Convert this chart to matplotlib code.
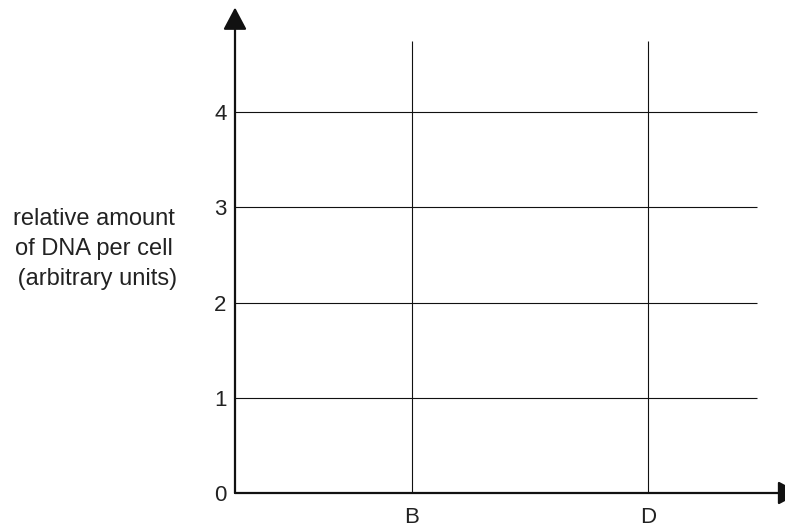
import matplotlib
matplotlib.use("Agg")
import matplotlib.pyplot as plt

# valores del grafico
y_levels = [0, 1, 2, 3, 4]
stage_labels = ["B", "D"]
stage_pos = [1.5, 3.5]
grid_end = 4.42
vline_top = 4.75
y_arrow_tip = 5.1
x_arrow_tip = 4.79

plt.rcParams["font.family"] = ["Liberation Sans", "DejaVu Sans"]

fig = plt.figure(figsize=(7.85, 5.28), dpi=100)
ax = fig.add_axes([235 / 785, 35 / 528, 550 / 785, 493 / 528])
ax.set_xlim(0, 550 / 118)
ax.set_ylim(0, 493 / 95.2)
for s in ax.spines.values():
    s.set_visible(False)

# rejilla
ax.hlines(y_levels[1:], 0, grid_end, color="#111111", lw=0.8)
ax.vlines(stage_pos, 0, vline_top, color="#111111", lw=0.8)

# ejes con flechas
arrow = dict(arrowstyle="-|>,head_length=0.68,head_width=0.36", mutation_scale=20,
             color="#111111", lw=1.6, shrinkA=0, shrinkB=0)
ax.annotate("", xy=(0, y_arrow_tip), xytext=(0, 0), arrowprops=arrow, annotation_clip=False)
ax.annotate("", xy=(x_arrow_tip, 0), xytext=(0, 0), arrowprops=arrow, annotation_clip=False)

ax.set_yticks(y_levels)
ax.set_yticklabels([str(v) for v in y_levels])
ax.set_xticks(stage_pos)
ax.set_xticklabels(stage_labels)
ax.tick_params(axis="y", length=0, pad=6, labelsize=16, colors="#222222")
ax.tick_params(axis="x", length=0, pad=10, labelsize=16, colors="#222222")

fig.text(94 / 785, 1 - 249 / 528, "relative amount\nof DNA per cell\n (arbitrary units)",
         ha="center", va="center", multialignment="center", fontsize=17,
         color="#222222", linespacing=1.45)

fig.savefig("out.png", dpi=100)
